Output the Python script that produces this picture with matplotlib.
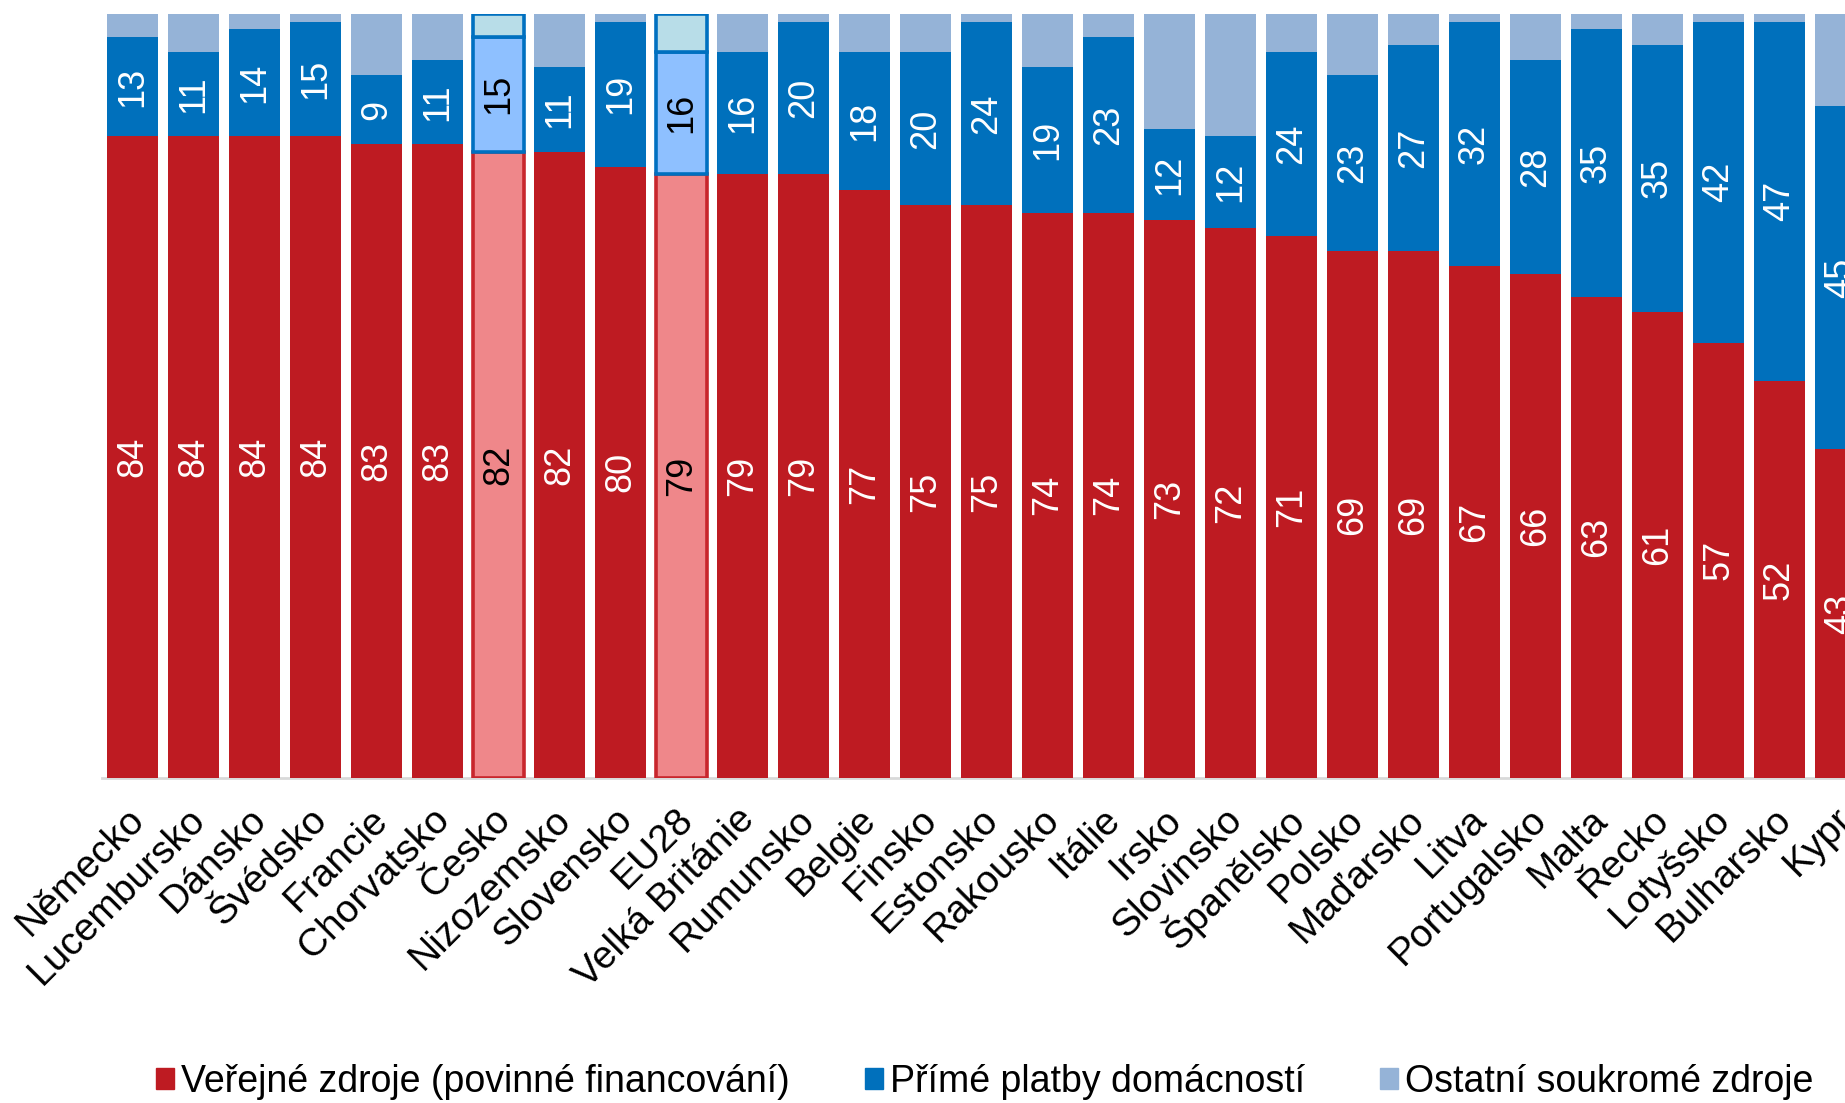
import numpy as np
import matplotlib
matplotlib.use("Agg")
import matplotlib.pyplot as plt
from matplotlib import font_manager
from matplotlib.patches import Patch
from matplotlib.transforms import ScaledTranslation

countries = ["Německo", "Lucembursko", "Dánsko", "Švédsko", "Francie", "Chorvatsko",
             "Česko", "Nizozemsko", "Slovensko", "EU28", "Velká Británie", "Rumunsko",
             "Belgie", "Finsko", "Estonsko", "Rakousko", "Itálie", "Irsko", "Slovinsko",
             "Španělsko", "Polsko", "Maďarsko", "Litva", "Portugalsko", "Malta", "Řecko",
             "Lotyšsko", "Bulharsko", "Kypr"]
verejne = [84, 84, 84, 84, 83, 83, 82, 82, 80, 79, 79, 79, 77, 75, 75, 74, 74, 73, 72,
           71, 69, 69, 67, 66, 63, 61, 57, 52, 43]
prime = [13, 11, 14, 15, 9, 11, 15, 11, 19, 16, 16, 20, 18, 20, 24, 19, 23, 12, 12,
         24, 23, 27, 32, 28, 35, 35, 42, 47, 45]
ostatni = [3, 5, 2, 1, 8, 6, 3, 7, 1, 5, 5, 1, 5, 5, 1, 7, 3, 15, 16,
           5, 8, 4, 1, 6, 2, 4, 1, 1, 12]
highlight = ["Česko", "EU28"]
legend_labels = ["Veřejné zdroje (povinné financování)", "Přímé platby domácností",
                 "Ostatní soukromé zdroje"]

RED, BLUE, LIGHT = "#BE1B22", "#0070BC", "#95B3D7"
RED_HL, BLUE_HL, LIGHT_HL = "#EF878A", "#8EC0FF", "#B8DDE8"

names = {f.name for f in font_manager.fontManager.ttflist}
base_font = "Liberation Sans" if "Liberation Sans" in names else "DejaVu Sans"
plt.rcParams["font.family"] = [base_font, "DejaVu Sans"]

fig = plt.figure(figsize=(18.45, 11.03), dpi=100)
ax = fig.add_axes([102 / 1845, 325 / 1103, 1769 / 1845, 764 / 1103])

x = np.arange(len(countries))
v = np.array(verejne)
p = np.array(prime)
o = np.array(ostatni)
hl = np.array([c in highlight for c in countries])

w = 0.836
for i in range(len(countries)):
    if hl[i]:
        ax.bar(x[i], v[i], w, color=RED_HL, edgecolor="#C8262C", linewidth=2.6, zorder=3)
        ax.bar(x[i], p[i], w, bottom=v[i], color=BLUE_HL, edgecolor="#0070C0",
               linewidth=2.6, zorder=3)
        ax.bar(x[i], o[i], w, bottom=v[i] + p[i], color=LIGHT_HL, edgecolor="#0070C0",
               linewidth=2.6, zorder=3)
        tc = "black"
    else:
        ax.bar(x[i], v[i], w, color=RED, zorder=2)
        ax.bar(x[i], p[i], w, bottom=v[i], color=BLUE, zorder=2)
        ax.bar(x[i], o[i], w, bottom=v[i] + p[i], color=LIGHT, zorder=2)
        tc = "white"
    ax.text(x[i], v[i] / 2, str(v[i]), rotation=90, ha="center", va="center",
            color=tc, fontsize=26, zorder=5)
    ax.text(x[i], v[i] + p[i] / 2, str(p[i]), rotation=90, ha="center", va="center",
            color=tc, fontsize=26, zorder=5)

ax.set_xlim(-0.5, len(countries) - 0.5)
ax.set_ylim(0, 100)
for s in ["top", "right", "left"]:
    ax.spines[s].set_visible(False)
ax.spines["bottom"].set_color("#D9D9D9")
ax.spines["bottom"].set_linewidth(2)
ax.spines["bottom"].set_zorder(1)
ax.set_yticks([])
ax.set_xticks(x)
ax.set_xticklabels(countries, fontsize=28)
ax.tick_params(axis="x", length=0, pad=26)
off = ScaledTranslation(6 / 100, 0, fig.dpi_scale_trans)
for lab in ax.get_xticklabels():
    lab.set_rotation(45)
    lab.set_ha("right")
    lab.set_va("center")
    lab.set_rotation_mode("anchor")
    lab.set_transform(lab.get_transform() + off)

handles = [Patch(color=RED), Patch(color=BLUE), Patch(color=LIGHT)]
fig.legend(handles, legend_labels, loc="center left", bbox_to_anchor=(156 / 1845, 1 - 1082 / 1103),
           ncol=3, frameon=False, prop=dict(family=base_font, size=27),
           handlelength=0.47, handleheight=0.47, handletextpad=0.2, columnspacing=2.0,
           borderpad=0, borderaxespad=0)

fig.savefig("out.png", dpi=100)
